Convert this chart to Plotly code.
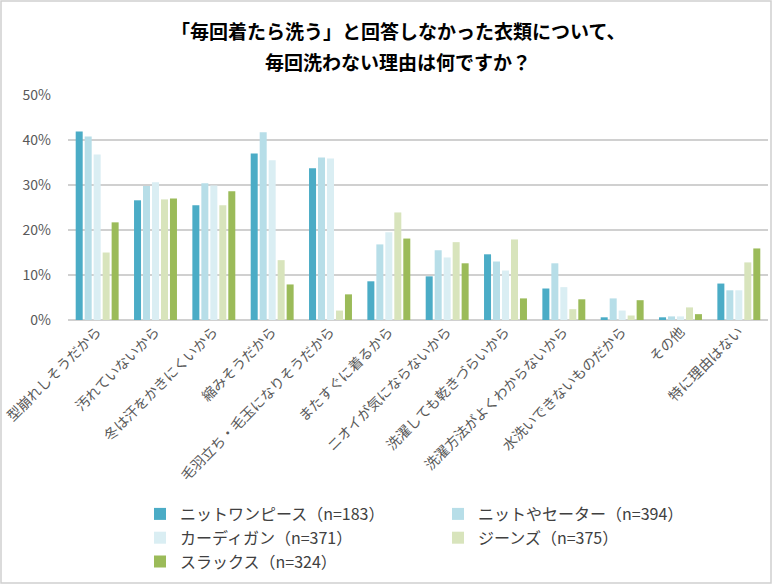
import plotly.graph_objects as go

# categories (reasons) and series values
categories = [
    "型崩れしそうだから", "汚れていないから", "冬は汗をかきにくいから", "縮みそうだから",
    "毛羽立ち・毛玉になりそうだから", "またすぐに着るから", "ニオイが気にならないから",
    "洗濯しても乾きづらいから", "洗濯方法がよくわからないから", "水洗いできないものだから",
    "その他", "特に理由はない",
]
series_names = [
    "ニットワンピース（n=183）", "ニットやセーター（n=394）", "カーディガン（n=371）",
    "ジーンズ（n=375）", "スラックス（n=324）",
]
knit_onepiece = [0.419, 0.266, 0.255, 0.370, 0.337, 0.086, 0.097, 0.146, 0.070, 0.006, 0.006, 0.081]
knit_sweater = [0.408, 0.298, 0.304, 0.417, 0.361, 0.168, 0.155, 0.130, 0.126, 0.048, 0.008, 0.066]
cardigan = [0.368, 0.306, 0.299, 0.355, 0.359, 0.195, 0.139, 0.110, 0.073, 0.021, 0.008, 0.066]
jeans = [0.150, 0.268, 0.255, 0.133, 0.021, 0.239, 0.173, 0.179, 0.024, 0.010, 0.028, 0.128]
slacks = [0.217, 0.270, 0.286, 0.079, 0.057, 0.181, 0.126, 0.048, 0.046, 0.044, 0.013, 0.159]
colors = ["#4BACC6", "#B7DEE8", "#DAEEF3", "#D8E4BC", "#9BBB59"]

all_series = [knit_onepiece, knit_sweater, cardigan, jeans, slacks]

FONT = "Noto Sans CJK JP"
W, H = 772, 584
ML, MR, MT, MB = 68, 4, 95, 264
pw = W - ML - MR
ph = H - MT - MB

fig = go.Figure()
for name, vals, col in zip(series_names, all_series, colors):
    fig.add_trace(go.Bar(x=categories, y=vals, name=name, marker_color=col,
                         marker_line_width=0))

# title as two annotations to get the wide line spacing
title_lines = ["「毎回着たら洗う」と回答しなかった衣類について、", "毎回洗わない理由は何ですか？"]
for i, line in enumerate(title_lines):
    fig.add_annotation(text="<b>" + line + "</b>", xref="paper", yref="paper",
                       x=(398 - ML) / pw, y=1 + (MT - (30 + 32 * i)) / ph,
                       showarrow=False, xanchor="center", yanchor="middle",
                       font=dict(family=FONT, size=19, color="#000000"))

# outer border of the chart
fig.add_shape(type="rect", xref="paper", yref="paper",
              x0=-(ML - 1) / pw, x1=1 + (MR - 1) / pw,
              y0=-(MB - 1) / ph, y1=1 + (MT - 1) / ph,
              line=dict(color="#D0D0D0", width=1.5))

fig.update_layout(
    width=W, height=H,
    margin=dict(l=ML, r=MR, t=MT, b=MB, autoexpand=False),
    paper_bgcolor="white", plot_bgcolor="white",
    barmode="group", bargap=0.23, bargroupgap=0.22,
    font=dict(family=FONT, size=14, color="#595959"),
    showlegend=True,
    legend=dict(orientation="h", x=(140 - ML) / pw, y=-(497 - MT - ph) / ph,
                xanchor="left", yanchor="top", entrywidth=253, entrywidthmode="pixels",
                font=dict(family=FONT, size=16, color="#404040"), itemwidth=30,
                traceorder="normal"),
)
fig.update_xaxes(tickangle=-45, showgrid=False, showline=False, ticks="", automargin=False,
                 tickfont=dict(family=FONT, size=14, color="#595959"))
fig.update_yaxes(range=[0, 0.5], dtick=0.1, tickformat=".0%", showgrid=True,
                 gridcolor="#D0D0D0", gridwidth=1.5, zeroline=True,
                 zerolinecolor="#D0D0D0", zerolinewidth=1.5, showline=False,
                 ticks="", ticklabelstandoff=16, automargin=False,
                 tickfont=dict(family=FONT, size=14, color="#595959"))

# remove the browser's default body margin so the figure sits at the page origin
fig.write_html("out.html", config={"displayModeBar": False},
               post_script="document.body.style.margin='0';")
